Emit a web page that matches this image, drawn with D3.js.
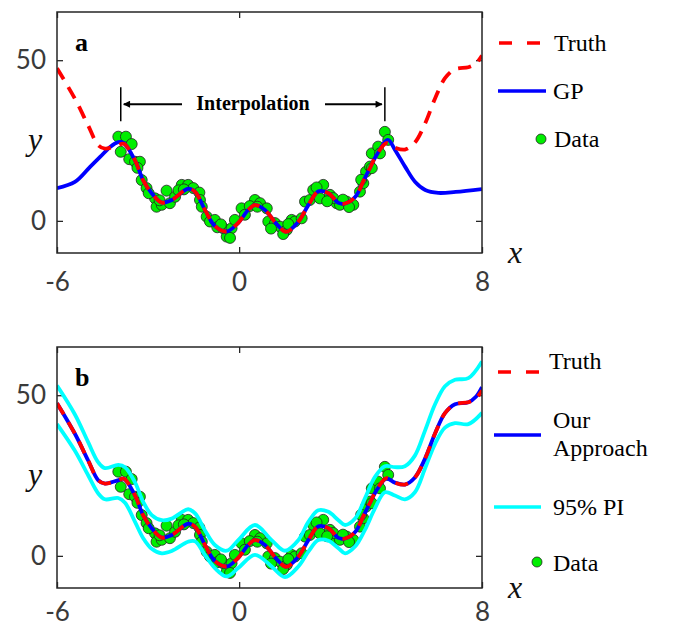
<!DOCTYPE html>
<html>
<head>
<meta charset="utf-8">
<script src="https://cdn.jsdelivr.net/npm/d3@7"></script>
<style>
  body { margin: 0; background: #fff; }
  .tick text { font-family: "Lato", "Open Sans", sans-serif; fill: #3a3a3a; }
</style>
</head>
<body>
<div id="chart"></div>
<script>
const truthX = [-6, -5.41, -4.97, -4.64, -4.42, -4.0, -3.8, -3.43, -3.16, -2.88, -2.55, -2.22, -1.68, -1.45, -1.13, -0.8, -0.41, -0.03, 0.3, 0.52, 0.85, 1.2, 1.55, 1.95, 2.28, 2.61, 2.94, 3.27, 3.49, 3.82, 4.1, 4.3, 4.5, 4.85, 5.13, 5.46, 5.79, 6.12, 6.45, 6.78, 7.11, 7.55, 7.8, 8];
const truthY = [47.5, 38, 29.6, 23.5, 22.5, 23.5, 24, 18.8, 12.6, 8.6, 5.7, 6.5, 10, 9.0, 3.5, -1.6, -3.3, -0.6, 3.4, 4.9, 3.4, -0.6, -3.4, -0.3, 4.9, 9.2, 8.6, 5.6, 5.4, 7.4, 12.5, 16.3, 20, 24.2, 22.8, 22.2, 24.4, 30.2, 38, 44.4, 47.2, 47.8, 49, 51.5];

// GP fit (panel a), falls back to the mean outside the data
const gpX = [-6, -5.41, -4.91, -4.58, -4.25, -3.98, -3.8, -3.43, -3.16, -2.88, -2.55, -2.22, -1.68, -1.45, -1.13, -0.8, -0.41, -0.03, 0.3, 0.52, 0.85, 1.2, 1.55, 1.95, 2.28, 2.61, 2.94, 3.27, 3.49, 3.82, 4.1, 4.3, 4.5, 4.9, 5.14, 5.47, 5.8, 6.13, 6.56, 7.13, 8];
const gpY = [10.2, 12.1, 16.8, 19.9, 23, 24.5, 24.2, 18.8, 12.6, 8.6, 5.7, 6.5, 10, 9.0, 3.5, -1.6, -3.3, -0.6, 3.4, 4.9, 3.4, -0.6, -3.4, -0.3, 4.9, 9.2, 8.6, 5.6, 5.4, 7.4, 12.5, 16.3, 20, 25.2, 22, 16.8, 12.1, 9.6, 8.7, 9.0, 9.9];

// our approach (panel b) and its 95% prediction interval
const ourX = truthX;
const ourY = [47.5, 38, 29.6, 23.5, 22.5, 23.5, 24, 18.8, 12.6, 8.6, 5.7, 6.5, 10, 9.0, 3.5, -1.6, -3.3, -0.6, 3.4, 4.9, 3.4, -0.6, -3.4, -0.3, 4.9, 9.2, 8.6, 5.6, 5.4, 7.4, 12.5, 16.3, 20, 24, 22.8, 22.2, 24.4, 30.2, 38, 44.4, 47.2, 47.8, 49.5, 52.5];
const piX = [-6, -5.41, -4.97, -4.64, -4.42, -3.98, -3.76, -3.43, -3.16, -2.88, -2.55, -2.22, -1.68, -1.45, -1.13, -0.8, -0.41, -0.03, 0.52, 1.07, 1.51, 1.95, 2.28, 2.61, 2.94, 3.27, 3.49, 3.82, 4.14, 4.47, 4.8, 5.13, 5.46, 5.79, 6.12, 6.45, 6.78, 7.11, 7.55, 8];
const piUpper = [53.0, 44.0, 35.3, 29.1, 27.3, 28.3, 27.6, 22.9, 16.8, 12.7, 11.1, 11.6, 14.5, 13.2, 8.0, 3.4, 1.6, 4.9, 9.6, 4.9, 1.6, 4.9, 10.6, 14.2, 13.7, 11.1, 9.6, 11.6, 17.8, 24.5, 27.9, 27.6, 27.9, 31.2, 38.9, 47.1, 52.8, 54.8, 55.3, 60.5];
const piLower = [41.0, 32.7, 25.0, 19.4, 17.6, 18.0, 16.5, 10.6, 5.5, 2.2, 0.8, 1.5, 4.4, 4.5, 0.3, -3.8, -6.4, -3.8, 0.3, -3.3, -6.6, -3.3, 1.3, 4.9, 4.7, 2.4, 0.8, 2.9, 8.0, 14.7, 19.8, 18.8, 17.6, 19.8, 27.1, 34.8, 39.9, 41.3, 41.0, 44.5];

// noisy observations
const dataX = [-3.98, -3.73, -3.54, -3.9, -3.62, -3.43, -3.27, -3.21, -3.05, -2.77, -2.72, -2.55, -2.39, -2.28, -2.11, -1.89, -1.68, -1.51, -1.31, -1.29, -1.23, -1.07, -0.96, -0.8, -0.72, -0.41, -0.52, -0.25, -0.14, 0.08, 0.19, 0.52, 0.69, 0.91, 0.96, 1.18, 1.35, 1.57, 1.73, 1.84, 2.06, 2.17, 2.33, 2.44, 2.66, 2.77, 2.99, 3.21, 3.32, 3.54, 3.76, 3.98, 4.09, 4.18, 4.31, 4.37, 4.58, 4.8, 4.91, 4.64, 4.37, -2.98, -2.62, -2.0, -1.82, -0.3, 0.35, 1.05, 1.45, 1.62, 2.55, 3.1, 3.62, 4.02, -3.35, 0.6, -0.6, 2.9, 3.42];
const dataY = [26.2, 26.2, 23.9, 21.5, 19.2, 18.4, 18.4, 12.7, 10.2, 7.0, 4.4, 5.0, 9.4, 5.5, 7.5, 11.2, 11.2, 10.2, 8.8, 6.5, 4.4, 1.3, -0.2, 0.3, -2.0, -4.9, -2.3, -2.3, 0.3, 3.9, 1.9, 6.5, 5.5, 3.9, -0.2, -0.7, -1.8, -2.8, 0.3, -0.2, 0.8, 6.0, 6.5, 9.6, 7.0, 11.2, 8.1, 5.5, 5.0, 6.0, 5.0, 9.1, 11.7, 15.3, 16.9, 21.0, 23.1, 27.7, 25.2, 21.0, 16.4, 8.6, 6.4, 9.5, 9.8, -5.3, 4.6, -2.4, -4.1, -1.0, 10.4, 7.1, 4.3, 12.8, 16.5, 4.4, -1.1, 6.1, 6.6];

const xTicks = [-6, 0, 8];
const yTicks = [0, 50];
const interpBounds = [-3.9, 4.8];

const W = 673, H = 626;
const svg = d3.select("#chart").append("svg")
    .attr("width", W).attr("height", H)
    .style("font-family", "'Liberation Serif', 'Times New Roman', serif");

const x = d3.scaleLinear().domain([-6, 8]).range([57, 482]);

const pts = (xs, ys) => xs.map((v, i) => [v, ys[i]]);
const plain = d => String(d);

const drawPanel = (top, bottom, id, pad) => {
    const y = d3.scaleLinear().domain([-10, 65]).range([bottom, top]);
    const g = svg.append("g");

    g.append("clipPath").attr("id", "clip" + id)
        .append("rect")
        .attr("x", x.range()[0]).attr("y", top)
        .attr("width", x.range()[1] - x.range()[0]).attr("height", bottom - top);

    const axes = [
        [d3.axisBottom(x).tickValues(xTicks).tickSizeInner(-6).tickPadding(pad).tickFormat(plain), `translate(0,${bottom})`],
        [d3.axisTop(x).tickValues(xTicks).tickSizeInner(-6).tickFormat(""), `translate(0,${top})`],
        [d3.axisLeft(y).tickValues(yTicks).tickSizeInner(-6).tickPadding(11).tickFormat(plain), `translate(${x.range()[0]},0)`],
        [d3.axisRight(y).tickValues(yTicks).tickSizeInner(-6).tickFormat(""), `translate(${x.range()[1]},0)`]
    ];
    axes.forEach(([ax, tr]) => {
        const a = g.append("g").attr("transform", tr).call(ax.tickSizeOuter(0));
        a.select(".domain").remove();
        a.selectAll(".tick line").attr("stroke", "#262626").attr("stroke-width", 1.3);
        a.selectAll(".tick text").style("font-size", "26px");
    });

    const plot = g.append("g").attr("clip-path", `url(#clip${id})`);

    g.append("rect")
        .attr("x", x.range()[0]).attr("y", top)
        .attr("width", x.range()[1] - x.range()[0]).attr("height", bottom - top)
        .attr("fill", "none").attr("stroke", "#262626").attr("stroke-width", 1.5);

    // axis titles
    g.append("text").attr("x", 35).attr("y", y(22))
        .attr("text-anchor", "middle")
        .style("font-style", "italic").style("font-size", "32px").attr("fill", "#111")
        .text("y");
    g.append("text").attr("x", 515).attr("y", bottom + 10)
        .attr("text-anchor", "middle")
        .style("font-style", "italic").style("font-size", "32px").attr("fill", "#111")
        .text("x");

    const line = d3.line().x(d => x(d[0])).y(d => y(d[1])).curve(d3.curveCatmullRom.alpha(0.5));
    return { y, plot, line, g };
};

const addData = (p) => {
    p.plot.append("g").selectAll("circle")
        .data(pts(dataX, dataY))
        .join("circle")
        .attr("cx", d => x(d[0])).attr("cy", d => p.y(d[1]))
        .attr("r", 5.5)
        .attr("fill", "#00ee00").attr("stroke", "#222").attr("stroke-width", 0.8);
};

// ---------- panel a ----------
const pa = drawPanel(12, 253, "a", 20);
addData(pa);
pa.plot.append("path").datum(pts(gpX, gpY))
    .attr("d", pa.line).attr("fill", "none")
    .attr("stroke", "#0000ff").attr("stroke-width", 3.8);
pa.plot.append("path").datum(pts(truthX, truthY))
    .attr("d", pa.line).attr("fill", "none")
    .attr("stroke", "#ff0000").attr("stroke-width", 3.8).attr("stroke-dasharray", "13,9");

pa.g.append("text").attr("x", 75).attr("y", 51)
    .style("font-weight", "bold").style("font-size", "26px").text("a");

// interpolation annotation
const arrowY = pa.y(36.3);
const defs = svg.append("defs");
defs.append("marker").attr("id", "arrow")
    .attr("viewBox", "0 0 10 10").attr("refX", 9).attr("refY", 5)
    .attr("markerWidth", 9).attr("markerHeight", 7)
    .attr("markerUnits", "userSpaceOnUse")
    .attr("orient", "auto")
    .append("path").attr("d", "M0,0 L10,5 L0,10 Z").attr("fill", "#000");

interpBounds.forEach(b => {
    pa.g.append("line")
        .attr("x1", x(b)).attr("x2", x(b))
        .attr("y1", pa.y(41.6)).attr("y2", pa.y(31))
        .attr("stroke", "#000").attr("stroke-width", 1.5);
});
pa.g.append("line")
    .attr("x1", 182).attr("x2", x(interpBounds[0]) + 3)
    .attr("y1", arrowY).attr("y2", arrowY)
    .attr("stroke", "#000").attr("stroke-width", 2).attr("marker-end", "url(#arrow)");
pa.g.append("line")
    .attr("x1", 325).attr("x2", x(interpBounds[1]) - 3)
    .attr("y1", arrowY).attr("y2", arrowY)
    .attr("stroke", "#000").attr("stroke-width", 2).attr("marker-end", "url(#arrow)");
pa.g.append("text").attr("x", 253).attr("y", 110)
    .attr("text-anchor", "middle")
    .style("font-weight", "bold").style("font-size", "20px").text("Interpolation");

// ---------- panel b ----------
const pb = drawPanel(347, 588, "b", 15);
addData(pb);
pb.plot.append("path").datum(pts(piX, piUpper))
    .attr("d", pb.line).attr("fill", "none")
    .attr("stroke", "#00ffff").attr("stroke-width", 3.8);
pb.plot.append("path").datum(pts(piX, piLower))
    .attr("d", pb.line).attr("fill", "none")
    .attr("stroke", "#00ffff").attr("stroke-width", 3.8);
pb.plot.append("path").datum(pts(ourX, ourY))
    .attr("d", pb.line).attr("fill", "none")
    .attr("stroke", "#0000ff").attr("stroke-width", 3.8);
pb.plot.append("path").datum(pts(truthX, truthY))
    .attr("d", pb.line).attr("fill", "none")
    .attr("stroke", "#ff0000").attr("stroke-width", 3.8).attr("stroke-dasharray", "13,9");

pb.g.append("text").attr("x", 75).attr("y", 386)
    .style("font-weight", "bold").style("font-size", "26px").text("b");

// ---------- legends ----------
const legendLine = (x1, x2, yy, color, dash) => {
    svg.append("line").attr("x1", x1).attr("x2", x2).attr("y1", yy).attr("y2", yy)
        .attr("stroke", color).attr("stroke-width", 3.5)
        .attr("stroke-dasharray", dash || null);
};
const legendText = (tx, ty, lines) => {
    const t = svg.append("text").attr("x", tx).attr("y", ty)
        .style("font-size", "24px").attr("fill", "#000");
    lines.forEach((s, i) => t.append("tspan").attr("x", tx).attr("dy", i ? 28 : 0).text(s));
};
const legendDot = (cx, cy) => {
    svg.append("circle").attr("cx", cx).attr("cy", cy).attr("r", 5)
        .attr("fill", "#00ee00").attr("stroke", "#222").attr("stroke-width", 0.8);
};

legendLine(499, 540, 43, "#ff0000", "13,15");
legendText(554, 51, ["Truth"]);
legendLine(498, 546, 91, "#0000ff");
legendText(553, 99, ["GP"]);
legendDot(541, 139);
legendText(554, 147, ["Data"]);

legendLine(498, 539, 372, "#ff0000", "13,15");
legendText(549, 369, ["Truth"]);
legendLine(494, 541, 435, "#0000ff");
legendText(553, 428, ["Our", "Approach"]);
legendLine(494, 541, 507, "#00ffff");
legendText(553, 515, ["95% PI"]);
legendDot(537, 562);
legendText(553, 571, ["Data"]);
</script>
</body>
</html>
